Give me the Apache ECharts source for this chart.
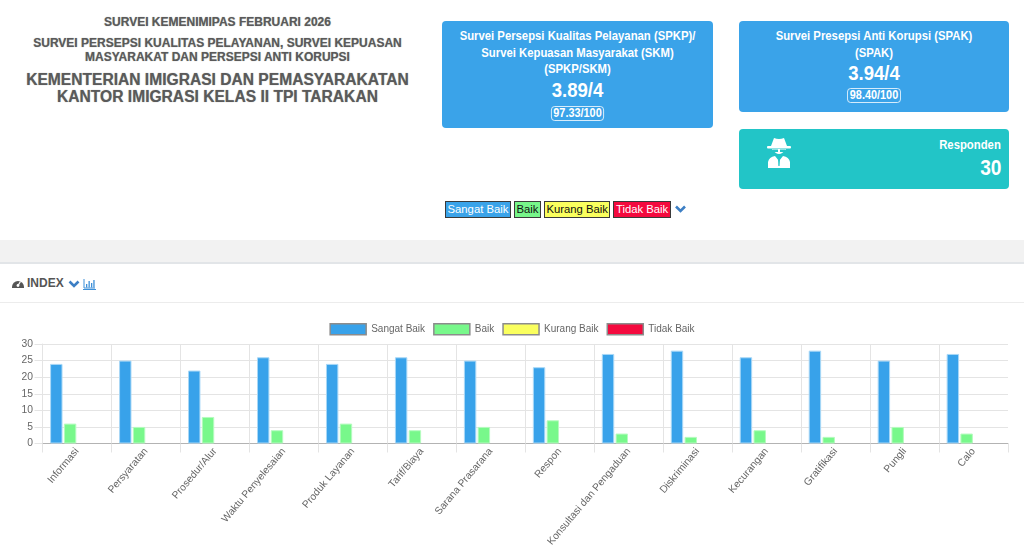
<!DOCTYPE html>
<html>
<head>
<meta charset="utf-8">
<script src="https://cdn.jsdelivr.net/npm/echarts@6/dist/echarts.min.js"></script>
<style>
  html, body { margin: 0; padding: 0; }
  body { width: 1024px; height: 556px; overflow: hidden; background: #fff; position: relative;
    font-family: "Liberation Sans", Arial, sans-serif; }
  .abs { position: absolute; }
  .hdr { left: 0; width: 435px; text-align: center; color: #5a5a5a; font-weight: bold;
    text-shadow: 0 0 1px #999; white-space: nowrap; }
  .card { position: absolute; border-radius: 4px; color: #fff; text-align: center; font-weight: bold;
    white-space: nowrap; }
  .card .n { transform: scaleX(0.87); }
  .card .t { font-size: 13px; line-height: 16.5px; }
  .card .big { font-size: 20px; line-height: 24px; transform: scaleX(0.93); }
  .card .pct { display: inline-block; font-size: 12.5px; line-height: 13px; border: 1px solid rgba(255,255,255,0.85);
    border-radius: 4px; padding: 0 2px; }
  .badges { position: absolute; left: 445px; top: 201px; display: flex; gap: 3px; align-items: center; }
  .badge { height: 14.5px; line-height: 14.5px; font-size: 11.3px; border: 1.5px solid #3a3a3a; padding: 0 1.5px; }
  #chart { position: absolute; left: 0; top: 315px; width: 1024px; height: 241px; }
</style>
</head>
<body>
<div class="abs hdr" style="top:15px;font-size:12px;">SURVEI KEMENIMIPAS FEBRUARI 2026</div>
<div class="abs hdr" style="top:36px;font-size:12px;line-height:14px;">SURVEI PERSEPSI KUALITAS PELAYANAN, SURVEI KEPUASAN<br>MASYARAKAT DAN PERSEPSI ANTI KORUPSI</div>
<div class="abs hdr" style="top:71px;font-size:15.6px;line-height:17px;">KEMENTERIAN IMIGRASI DAN PEMASYARAKATAN<br>KANTOR IMIGRASI KELAS II TPI TARAKAN</div>

<div class="card" style="left:442px;top:21px;width:271px;height:107px;background:#3aa3e9;">
  <div class="n t" style="margin-top:7px;">Survei Persepsi Kualitas Pelayanan (SPKP)/<br>Survei Kepuasan Masyarakat (SKM)<br>(SPKP/SKM)</div>
  <div class="big">3.89/4</div>
  <div class="n" style="margin-top:1px;"><span class="pct">97.33/100</span></div>
</div>
<div class="card" style="left:739px;top:21px;width:270px;height:91px;background:#3aa3e9;">
  <div class="n t" style="margin-top:7px;">Survei Presepsi Anti Korupsi (SPAK)<br>(SPAK)</div>
  <div class="big">3.94/4</div>
  <div class="n" style="margin-top:0px;"><span class="pct">98.40/100</span></div>
</div>
<div class="card" style="left:739px;top:129px;width:270px;height:60px;background:#22c5c7;">
  <svg class="abs" style="left:27px;top:8px;" width="26" height="32" viewBox="0 0 26 32">
    <path d="M5 9 L8 1 Q13 3 18 1 L21 9 Z" fill="#fff"/>
    <rect x="1" y="9" width="24" height="2.5" rx="1" fill="#fff"/>
    <path d="M6 12 Q13 22 20 12 Z" fill="#fff"/>
    <rect x="7" y="12.5" width="5" height="2.5" fill="#22c5c7"/>
    <rect x="14" y="12.5" width="5" height="2.5" fill="#22c5c7"/>
    <path d="M2 31 L2 25 Q3 20 9 19 L13 24 L17 19 Q23 20 24 25 L24 31 Z" fill="#fff"/>
    <path d="M12 22 L14 22 L13.6 29 L12.4 29 Z" fill="#22c5c7"/>
  </svg>
  <div class="n" style="position:absolute;right:8px;top:8px;font-size:13px;transform-origin:right center;">Responden</div>
  <div class="n" style="position:absolute;right:8px;top:26px;font-size:22px;transform-origin:right center;">30</div>
</div>

<div class="badges">
  <div class="badge" style="background:#3aa3e9;color:#fff;">Sangat Baik</div>
  <div class="badge" style="background:#77f68a;color:#111;">Baik</div>
  <div class="badge" style="background:#faff5e;color:#111;">Kurang Baik</div>
  <div class="badge" style="background:#f40a3e;color:#fff;">Tidak Baik</div>
  <svg width="13" height="9" viewBox="0 0 13 9">
    <path d="M2 1.5 L6.5 6 L11 1.5" stroke="#3d7fc4" stroke-width="2.6" fill="none"/>
  </svg>
</div>

<div class="abs" style="left:0;top:240px;width:1024px;height:22px;background:#f2f2f2;"></div>
<div class="abs" style="left:0;top:262px;width:1024px;height:2px;background:#e2e5e8;"></div>
<svg class="abs" style="left:12px;top:278px;" width="12" height="10" viewBox="0 0 12 10">
  <path d="M0 9 A6 6 0 0 1 12 9 L12 10 L0 10 Z" fill="#555"/>
  <circle cx="6" cy="7.5" r="1.4" fill="#fff"/>
  <path d="M6 7.5 L8.5 3.5" stroke="#fff" stroke-width="1.2"/>
</svg>
<div class="abs" style="left:27px;top:276px;font-size:12px;font-weight:bold;color:#555;">INDEX</div>
<svg class="abs" style="left:68px;top:280px;" width="12" height="9" viewBox="0 0 12 9">
  <path d="M1.5 1.5 L6 6 L10.5 1.5" stroke="#3d7fc4" stroke-width="2.6" fill="none"/>
</svg>
<svg class="abs" style="left:83px;top:278px;" width="13" height="12" viewBox="0 0 13 12">
  <path d="M1 1 L1 10 L12 10" stroke="#3d8fd8" stroke-width="1" fill="none"/>
  <rect x="3" y="6" width="1.3" height="3.5" fill="#3d8fd8"/>
  <rect x="5.5" y="3" width="1.3" height="6.5" fill="#3d8fd8"/>
  <rect x="8" y="5" width="1.3" height="4.5" fill="#3d8fd8"/>
  <rect x="10.3" y="2" width="1.3" height="7.5" fill="#3d8fd8"/>
  <rect x="0" y="11" width="13" height="1" fill="#3d8fd8"/>
</svg>
<div class="abs" style="left:0;top:302px;width:1024px;height:1px;background:#ececec;"></div>

<div id="chart"></div>

<script>
const categories = ['Informasi', 'Persyaratan', 'Prosedur/Alur', 'Waktu Penyelesaian', 'Produk Layanan',
  'Tarif/Biaya', 'Sarana Prasarana', 'Respon', 'Konsultasi dan Pengaduan', 'Diskriminasi',
  'Kecurangan', 'Gratifikasi', 'Pungli', 'Calo'];
const sangatBaik = [24, 25, 22, 26, 24, 26, 25, 23, 27, 28, 26, 28, 25, 27];
const baik = [6, 5, 8, 4, 6, 4, 5, 7, 3, 2, 4, 2, 5, 3];
const kurangBaik = [0, 0, 0, 0, 0, 0, 0, 0, 0, 0, 0, 0, 0, 0];
const tidakBaik = [0, 0, 0, 0, 0, 0, 0, 0, 0, 0, 0, 0, 0, 0];
const yTicks = { min: 0, max: 30, interval: 5 };

const chart = echarts.init(document.getElementById('chart'));
const font = '"Liberation Sans", Arial, sans-serif';

function bar(name, data, color, border) {
  return {
    name, type: 'bar', data,
    barWidth: '18%', barGap: '11%',
    itemStyle: { color, borderColor: border, borderWidth: border ? 1 : 0 },
  };
}

chart.setOption({
  animation: false,
  textStyle: { fontFamily: font },
  legend: {
    top: 3, left: 'center', itemWidth: 36, itemHeight: 11, itemGap: 8,
    icon: 'rect',
    itemStyle: { borderColor: '#8c8c8c', borderWidth: 1.5 },
    textStyle: { color: '#666', fontSize: 10, fontFamily: font },
  },
  grid: { left: 42.5, right: 16, top: 29, bottom: 112.5, containLabel: false, outerBoundsMode: 'none' },
  xAxis: {
    type: 'category', data: categories, boundaryGap: true,
    axisLine: { lineStyle: { color: '#b3b3b3' } },
    axisTick: { show: true, length: 9, lineStyle: { color: '#e4e4e4' } },
    splitLine: { show: true, showMaxLine: false, lineStyle: { color: '#e4e4e4' } },
    axisLabel: { interval: 0, rotate: 50, margin: 6, color: '#666', fontSize: 10.3, fontFamily: font },
  },
  yAxis: {
    type: 'value', min: yTicks.min, max: yTicks.max, interval: yTicks.interval,
    axisLine: { show: true, lineStyle: { color: '#e4e4e4' } },
    axisTick: { show: true, length: 8, lineStyle: { color: '#e4e4e4' } },
    splitLine: { lineStyle: { color: '#e4e4e4' } },
    axisLabel: { margin: 9.5, color: '#666', fontSize: 10.3, fontFamily: font },
  },
  series: [
    bar('Sangat Baik', sangatBaik, '#38a2ea', '#a9d8f7'),
    bar('Baik', baik, '#78f88b', '#b5fbbf'),
    bar('Kurang Baik', kurangBaik, '#faff5e', null),
    bar('Tidak Baik', tidakBaik, '#f40a3e', null),
  ],
});
</script>
</body>
</html>
